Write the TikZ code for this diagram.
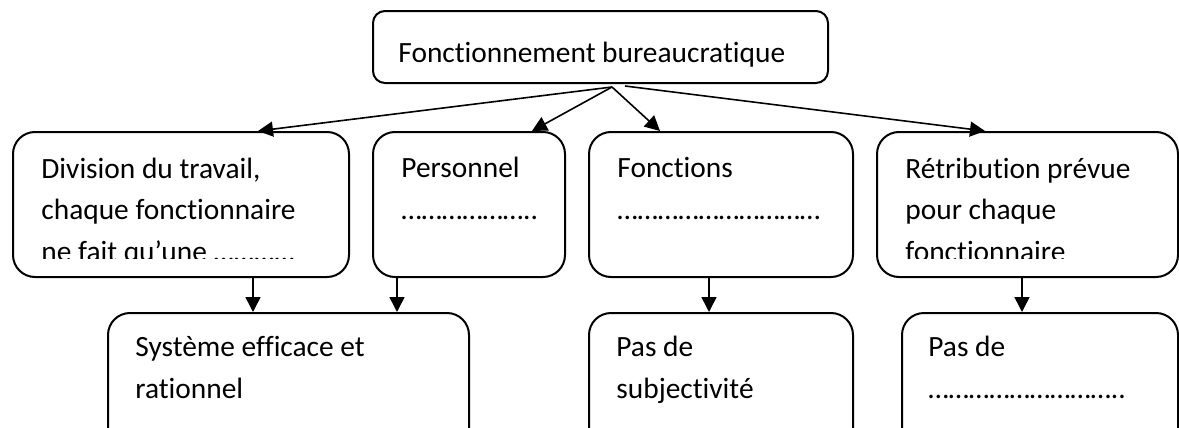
\documentclass[tikz,border=0pt]{standalone}
\usepackage{fontspec}
\setmainfont{Carlito}[Ligatures=NoCommon]
\usetikzlibrary{arrows.meta,calc}

\begin{document}
\begin{tikzpicture}[x=0.5pt,y=-0.5pt]
\tikzstyle{cadre}=[draw,line width=1pt,rounded corners=11pt,inner sep=0pt]
\tikzstyle{texte}=[anchor=base west,align=left,inner sep=0pt,font=\fontsize{14.7pt}{20.75pt}\selectfont]
\tikzstyle{fleche}=[line width=0.8pt,-{Triangle[length=7.5pt,width=7.5pt]}]
\useasboundingbox (0,0) rectangle (1179,428);
\clip (0,0) rectangle (1179,428);
% boites
\node[cadre,rounded corners=6pt,minimum width=227.5pt,minimum height=36pt] (fb) at (600.5,47) {};
\foreach \name/\cx/\w in {div/181/168, pers/469/96, fonc/721/132, retr/1027.5/150.5}
  \node[cadre,minimum width=\w pt,minimum height=72.5pt] (\name) at (\cx,204.5) {};
\foreach \name/\cx/\w in {sys/288.5/180.5, subj/721/132, pasde/1040/138}
  \node[cadre,minimum width=\w pt,minimum height=72.5pt] (\name) at (\cx,385.5) {};
% textes (ancre sur la derniere ligne)
\node[texte] (t-fb) at (398,62) {Fonctionnement bureaucratique};
\begin{scope}
  \clip (0,0) rectangle (1179,258);
  \node[texte] (t-div) at (41,261) {Division du travail,\\chaque fonctionnaire\\ne fait qu’une …………};
  \node[texte] (t-pers) at (401,219) {Personnel\\……………….. };
  \node[texte] (t-fonc) at (617,219) {Fonctions\\…………………………};
  \node[texte] (t-retr) at (905,261) {Rétribution prévue\\pour chaque\\fonctionnaire};
\end{scope}
\node[texte] (t-sys) at (135,398) {Système efficace et\\rationnel};
\node[texte] (t-subj) at (616,398) {Pas de\\subjectivité};
\node[texte] (t-pasde) at (928,398) {Pas de\\………………………..};
% fleches
\coordinate (o1) at (612,87);
\coordinate (o2) at (625,86);
\draw[fleche] (o1) -- ($(div.north)+(77,0)$);
\draw[fleche] (o1) -- ($(pers.north)+(63,0)$);
\draw[fleche] (o1) -- ($(fonc.north)+(-61,0)$);
\draw[fleche] (o2) -- ($(retr.north)+(-42.5,0)$);
\foreach \a/\b/\x in {div/sys/253, pers/sys/397, fonc/subj/709, retr/pasde/1022}
  \draw[fleche] (\a.south -| \x,0) -- (\b.north -| \x,0);
\end{tikzpicture}
\end{document}
